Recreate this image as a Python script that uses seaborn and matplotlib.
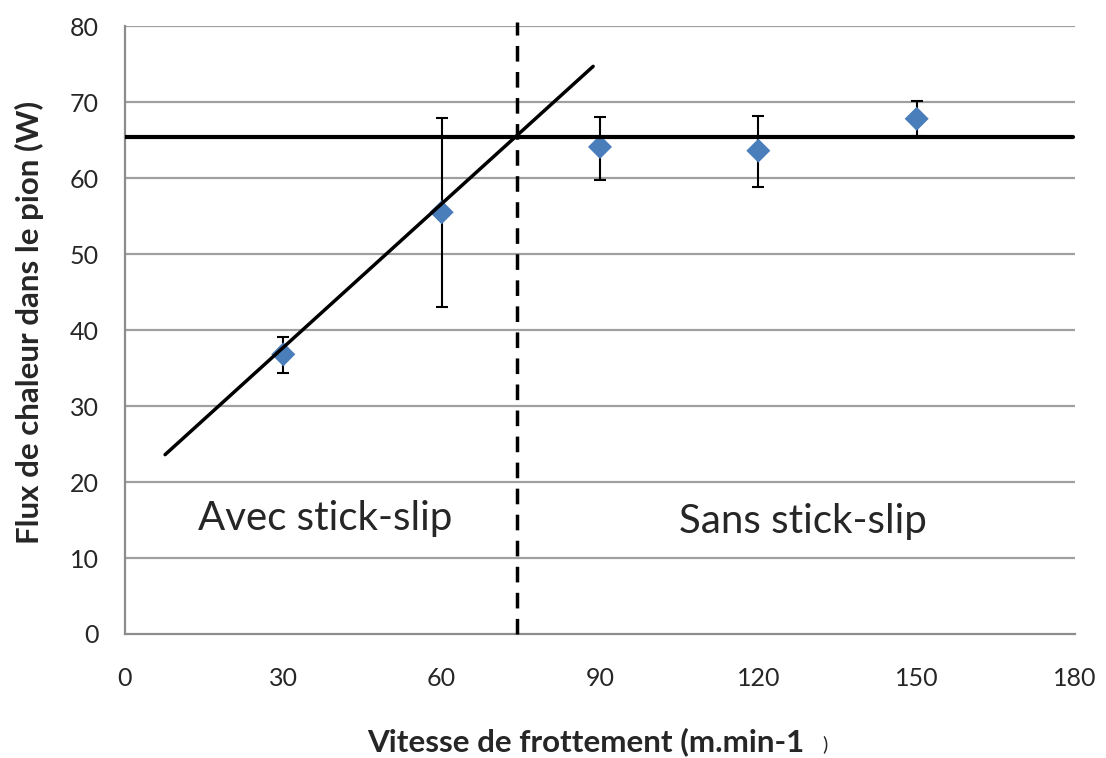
import numpy as np
import pandas as pd
import seaborn as sns
import matplotlib.pyplot as plt

# Friction speed (m/min) and heat flux into the pin (W)
vitesse = [30, 60, 90, 120, 150]
flux = [36.8, 55.5, 64.1, 63.6, 67.8]
err_haut = [39.1, 67.9, 68.0, 68.2, 70.1]
err_bas = [34.3, 43.0, 59.7, 58.8, 65.5]

# Linear trend (stick-slip regime) and plateau level
tendance_x = [7.6, 88.7]
tendance_y = [23.6, 74.7]
plateau = 65.4
transition = 74.3

x_ticks = [0, 30, 60, 90, 120, 150, 180]
y_ticks = [0, 10, 20, 30, 40, 50, 60, 70, 80]

sns.set_theme(style="white")
plt.rcParams['font.family'] = ['Lato', 'DejaVu Sans']

df = pd.DataFrame({"vitesse": vitesse, "flux": flux})

fig = plt.figure(figsize=(11.06, 7.58), dpi=100)
ax = fig.add_axes([0.113, 0.1636, 0.859, 0.802])

# grid lines
for yv in y_ticks[1:]:
    ax.axhline(yv, color="#a0a0a0", lw=1.6, zorder=0)

# error bars
yerr = np.array([np.array(flux) - np.array(err_bas), np.array(err_haut) - np.array(flux)])
ax.errorbar(vitesse, flux, yerr=yerr, fmt="none", ecolor="black", elinewidth=1.5,
            capsize=4.5, capthick=1.5, zorder=2)

sns.scatterplot(data=df, x="vitesse", y="flux", marker="D", s=150, color="#4a7ebb",
                edgecolor="none", ax=ax, zorder=3)

# trend line and plateau
ax.plot(tendance_x, tendance_y, color="black", lw=2.5, zorder=4)
ax.plot([0, 179.6], [plateau, plateau], color="black", lw=3, zorder=4)
ax.plot([transition, transition], [0, 80.5], color="black", lw=2.5, ls=(0, (4.5, 3)),
        clip_on=False, zorder=4)

ax.text(38, 15.2, "Avec stick-slip", fontsize=29, ha="center", va="center")
ax.text(128.5, 14.8, "Sans stick-slip", fontsize=29, ha="center", va="center")

ax.set_xlim(0, 180)
ax.set_ylim(0, 80)
ax.set_xticks(x_ticks)
ax.set_yticks(y_ticks)
ax.tick_params(axis="both", labelsize=18, length=0)
ax.tick_params(axis="y", pad=19)
ax.tick_params(axis="x", pad=24)

for side in ["top", "right"]:
    ax.spines[side].set_visible(False)
for side in ["left", "bottom"]:
    ax.spines[side].set_color("#8c8c8c")
    ax.spines[side].set_linewidth(1.6)

ax.set_ylabel("")
ax.set_xlabel("")
fig.text(0.0265, 0.574, "Flux de chaleur dans le pion (W)", fontsize=22.5, fontweight="bold",
         rotation=90, ha="center", va="center")
fig.text(0.530, 0.022, "Vitesse de frottement (m.min-1", fontsize=22.6, fontweight="bold",
         ha="center", va="center")
fig.text(0.7455, 0.018, ")", fontsize=14, ha="center", va="center")

fig.savefig("out.png", dpi=100)
